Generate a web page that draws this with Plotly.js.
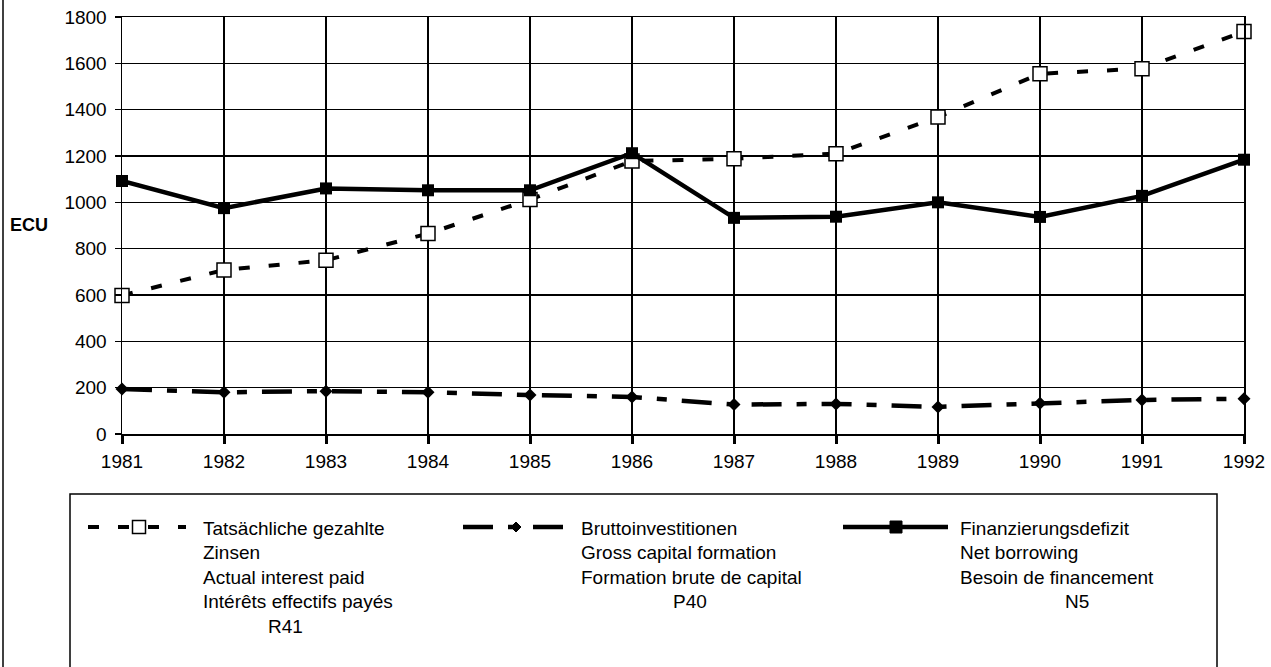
<!DOCTYPE html>
<html>
<head>
<meta charset="utf-8">
<script src="https://cdn.plot.ly/plotly-3.0.1.min.js"></script>
<style>html,body{margin:0;padding:0;background:#fff;}#chart{width:1271px;height:667px;}</style>
</head>
<body>
<div id="chart"></div>
<script>
// ---- data ----
const years = [1981, 1982, 1983, 1984, 1985, 1986, 1987, 1988, 1989, 1990, 1991, 1992];
const yearLabels = ["1981", "1982", "1983", "1984", "1985", "1986", "1987", "1988", "1989", "1990", "1991", "1992"];
const interestPaid = [598, 708, 750, 865, 1012, 1178, 1188, 1210, 1368, 1555, 1577, 1737];
const grossCapital = [194, 180, 185, 180, 168, 160, 127, 130, 117, 133, 147, 152];
const netBorrowing = [1092, 975, 1060, 1052, 1052, 1212, 933, 938, 1000, 937, 1028, 1184];
const yTicks = [0, 200, 400, 600, 800, 1000, 1200, 1400, 1600, 1800];

const legendInterest = ["Tatsächliche gezahlte", "Zinsen", "Actual interest paid", "Intérêts effectifs payés", "R41"];
const legendGross = ["Bruttoinvestitionen", "Gross capital formation", "Formation brute de capital", "P40"];
const legendNet = ["Finanzierungsdefizit", "Net borrowing", "Besoin de financement", "N5"];
const yUnit = "ECU";

// ---- geometry helpers ----
const W = 1271, H = 667;
const M = {l: 122, r: 27, t: 17, b: 233};
const PW = W - M.l - M.r, PH = H - M.t - M.b;
const px = x => (x - M.l) / PW;
const py = y => (H - M.b - y) / PH;
const FONT = "Liberation Sans, Arial, Helvetica, sans-serif";

const DASH_INT = "11px,19px";
const DASH_GROSS = "30px,15px,10px,15px";

const traces = [
  {
    x: years, y: interestPaid, type: "scatter", mode: "lines+markers", name: legendInterest.join(" "),
    line: {color: "#000", width: 4, dash: DASH_INT},
    marker: {symbol: "square", size: 14, color: "#fff", line: {color: "#000", width: 1.5}},
    cliponaxis: false, showlegend: false
  },
  {
    x: years, y: grossCapital, type: "scatter", mode: "lines+markers", name: legendGross.join(" "),
    line: {color: "#000", width: 4.5, dash: DASH_GROSS},
    marker: {symbol: "diamond", size: 10, color: "#000"},
    cliponaxis: false, showlegend: false
  },
  {
    x: years, y: netBorrowing, type: "scatter", mode: "lines+markers", name: legendNet.join(" "),
    line: {color: "#000", width: 4.5},
    marker: {symbol: "square", size: 12, color: "#000"},
    cliponaxis: false, showlegend: false
  }
];

// ---- manual legend (decoration) ----
const shapes = [];
const annotations = [];
shapes.push({type: "line", xref: "paper", yref: "paper", x0: px(3), x1: px(3), y0: py(0), y1: py(H + 5), line: {color: "#000", width: 1.5}});
shapes.push({type: "rect", xref: "paper", yref: "paper", x0: px(70), x1: px(1217), y0: py(494), y1: py(H + 10), line: {color: "#000", width: 1.5}, fillcolor: "rgba(0,0,0,0)"});

const legendItems = [
  {lines: legendInterest, textX: 201, lastX: 285, sx0: 88, sx1: 186, mx: 139, dash: DASH_INT, width: 4, marker: "openSquare"},
  {lines: legendGross, textX: 579, lastX: 690, sx0: 463, sx1: 566, mx: 516, dash: DASH_GROSS, width: 4.5, marker: "diamond"},
  {lines: legendNet, textX: 958, lastX: 1077, sx0: 843, sx1: 948, mx: 896, dash: "solid", width: 4.5, marker: "square"}
];
const LINE0 = 528, LSP = 24.5, SYMY = 527;
legendItems.forEach(it => {
  shapes.push({type: "line", xref: "paper", yref: "paper", x0: px(it.sx0), x1: px(it.sx1), y0: py(SYMY), y1: py(SYMY), line: {color: "#000", width: it.width, dash: it.dash}});
  if (it.marker === "openSquare") {
    shapes.push({type: "rect", xref: "paper", yref: "paper", x0: px(it.mx - 6.5), x1: px(it.mx + 6.5), y0: py(SYMY - 6.5), y1: py(SYMY + 6.5), line: {color: "#000", width: 1.5}, fillcolor: "#fff"});
  } else if (it.marker === "square") {
    shapes.push({type: "rect", xref: "paper", yref: "paper", x0: px(it.mx - 6), x1: px(it.mx + 6), y0: py(SYMY - 6), y1: py(SYMY + 6), line: {color: "#000", width: 1}, fillcolor: "#000"});
  } else {
    const a = px(it.mx), b = py(SYMY), dx = 5 / PW, dy = 5 / PH;
    shapes.push({type: "path", xref: "paper", yref: "paper",
      path: `M ${a - dx} ${b} L ${a} ${b + dy} L ${a + dx} ${b} L ${a} ${b - dy} Z`,
      line: {color: "#000", width: 1}, fillcolor: "#000"});
  }
  it.lines.forEach((t, i) => {
    const last = i === it.lines.length - 1;
    annotations.push({
      text: t, xref: "paper", yref: "paper", showarrow: false,
      x: px(last ? it.lastX : it.textX), xanchor: last ? "center" : "left",
      y: py(LINE0 + i * LSP), yanchor: "middle",
      font: {family: FONT, size: 19, color: "#000"}
    });
  });
});

annotations.push({text: "<b>" + yUnit + "</b>", xref: "paper", yref: "paper", showarrow: false,
  x: px(29), xanchor: "center", y: py(225), yanchor: "middle", font: {family: FONT, size: 18, color: "#000"}});

const layout = {
  width: W, height: H,
  margin: M,
  paper_bgcolor: "#fff", plot_bgcolor: "#fff",
  font: {family: FONT, size: 19, color: "#000"},
  showlegend: false,
  xaxis: {
    type: "linear", range: [1981, 1992], tickvals: years, ticktext: yearLabels,
    showgrid: true, gridcolor: "#000", gridwidth: 1.5,
    showline: true, mirror: true, linecolor: "#000", linewidth: 1.5,
    zeroline: false, ticks: "outside", ticklen: 8, tickwidth: 3, tickcolor: "#000",
    tickfont: {family: FONT, size: 19, color: "#000"}, ticklabelstandoff: 2, fixedrange: true
  },
  xaxis2: {
    overlaying: "x", anchor: "y", side: "bottom", range: [1981, 1992], tickvals: years,
    showticklabels: false, showgrid: false, zeroline: false, showline: false,
    ticks: "inside", ticklen: 8, tickwidth: 3, tickcolor: "#000"
  },
  yaxis: {
    range: [0, 1800], tickvals: yTicks,
    showgrid: true, gridcolor: "#000", gridwidth: 1.5,
    showline: true, mirror: true, linecolor: "#000", linewidth: 1.5,
    zeroline: true, zerolinecolor: "#000", zerolinewidth: 5,
    ticks: "outside", ticklen: 6, tickwidth: 1.5, tickcolor: "#000",
    tickfont: {family: FONT, size: 19, color: "#000"}, ticklabelstandoff: 4, fixedrange: true
  },
  shapes: shapes,
  annotations: annotations
};

Plotly.newPlot("chart", traces, layout, {displayModeBar: false, staticPlot: true});
</script>
</body>
</html>
